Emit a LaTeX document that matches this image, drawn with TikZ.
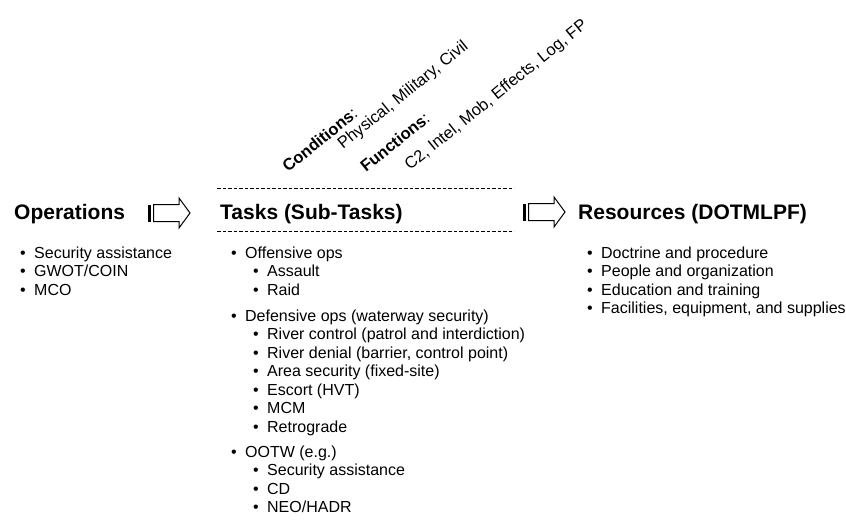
\documentclass[tikz,border=0pt]{standalone}
\usepackage{fontspec}
\setmainfont{Liberation Sans}
\newcommand{\itembullet}{\makebox[14pt][l]{\textbullet}}
\begin{document}
\begin{tikzpicture}
        [x=1pt, y=-1pt,
        title/.style={anchor=base west, inner sep=0pt, font=\fontsize{21}{25}\selectfont\bfseries},
        item/.style={anchor=base west, inner sep=0pt, font=\fontsize{16}{19}\selectfont},
        slanted/.style={anchor=base west, inner sep=0pt, rotate=39, font=\fontsize{16.5}{19}\selectfont},
        rule/.style={line width=0.8pt, dash pattern=on 3.5pt off 2pt},
        blockarrow/.pic={
                \fill (0,-8.5) rectangle (3.2,8.5);
                \draw[line width=1pt] (5.5,-8.5) -- (31,-8.5) -- (31,-15) -- (42,0) -- (31,15) -- (31,8.5) -- (5.5,8.5) -- cycle;
        }]
                \useasboundingbox (0,0) rectangle (846,525);
                
                % operations
                \node[title] (ops) at (14,219.5) {Operations};
                \node[item] (opsA) at (20,258) {\itembullet Security assistance};
                \node[item] (opsB) at (20,276.5) {\itembullet GWOT/COIN};
                \node[item] (opsC) at (20,295) {\itembullet MCO};
                
                \pic at (148,213) {blockarrow};
                
                % tasks
                \draw[rule] (217,188) -- (514,188);
                \draw[rule] (217,231) -- (514,231);
                \node[title] (tasks) at (220,219.5) {Tasks (Sub-Tasks)};
                \node[item] (off) at (231,258) {\itembullet Offensive ops};
                \node[item] (offA) at (253,276.5) {\itembullet Assault};
                \node[item] (offB) at (253,295) {\itembullet Raid};
                \node[item] (def) at (231,321) {\itembullet Defensive ops (waterway security)};
                \node[item] (defA) at (253,339.5) {\itembullet River control (patrol and interdiction)};
                \node[item] (defB) at (253,358) {\itembullet River denial (barrier, control point)};
                \node[item] (defC) at (253,376.5) {\itembullet Area security (fixed-site)};
                \node[item] (defD) at (253,395) {\itembullet Escort (HVT)};
                \node[item] (defE) at (253,413.5) {\itembullet MCM};
                \node[item] (defF) at (253,432) {\itembullet Retrograde};
                \node[item] (ootw) at (231,457) {\itembullet OOTW (e.g.)};
                \node[item] (ootwA) at (253,475.5) {\itembullet Security assistance};
                \node[item] (ootwB) at (253,494) {\itembullet CD};
                \node[item] (ootwC) at (253,512.5) {\itembullet NEO/HADR};
                
                % conditions and functions
                \node[slanted] (cond) at (288,173) {\textbf{Conditions}:};
                \node[slanted] (condList) at (343,150) {Physical, Military, Civil};
                \node[slanted] (func) at (366,173) {\textbf{Functions}:};
                \node[slanted] (funcList) at (410,171) {C2, Intel, Mob, Effects, Log, FP};
                
                \pic at (523,212) {blockarrow};
                
                % resources
                \node[title] (res) at (578,219.5) {Resources (DOTMLPF)};
                \node[item] (resA) at (587,258) {\itembullet Doctrine and procedure};
                \node[item] (resB) at (587,276.5) {\itembullet People and organization};
                \node[item] (resC) at (587,295) {\itembullet Education and training};
                \node[item] (resD) at (587,313.5) {\itembullet Facilities, equipment, and supplies};
            \end{tikzpicture}
\end{document}
